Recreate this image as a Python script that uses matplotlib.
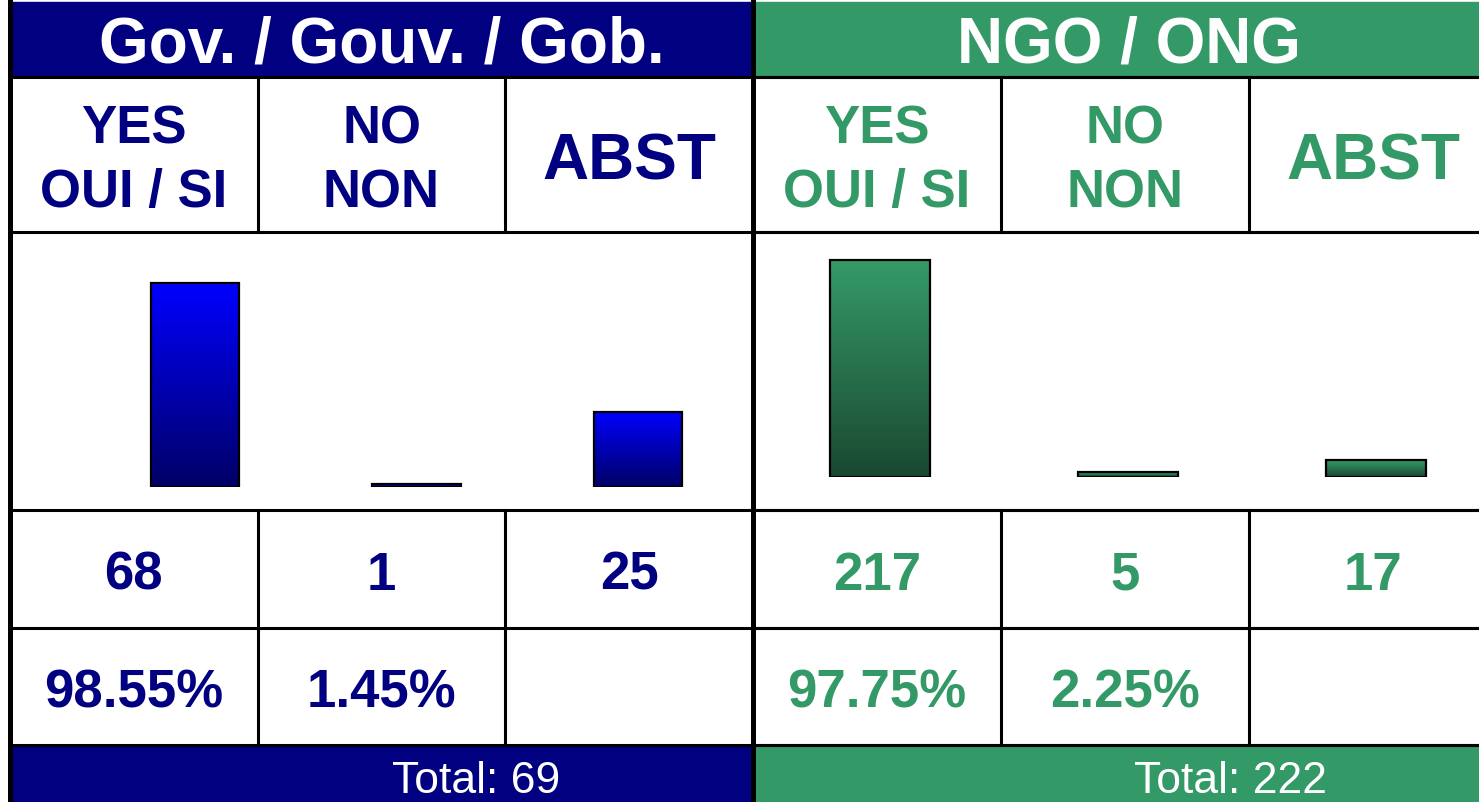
import numpy as np
import matplotlib
matplotlib.use('Agg')
import matplotlib.pyplot as plt
from matplotlib.patches import Rectangle

plt.rcParams['font.family'] = ['Liberation Sans', 'DejaVu Sans']

# Data
groups = ['Gov. / Gouv. / Gob.', 'NGO / ONG']
yes_labels = ['YES', 'OUI / SI']
no_labels = ['NO', 'NON']
abst_label = 'ABST'
gov_counts = [68, 1, 25]
ngo_counts = [217, 5, 17]
gov_pct = ['98.55%', '1.45%', '']
ngo_pct = ['97.75%', '2.25%', '']
gov_total = 69
ngo_total = 222

navy = '#000080'
green = '#339966'

W, H = 1479, 803
fig = plt.figure(figsize=(W / 100, H / 100), dpi=100)
ax = fig.add_axes([0, 0, 1, 1])
ax.set_xlim(0, W)
ax.set_ylim(H, 0)
ax.axis('off')

# panel geometry in pixels
panels = [
    dict(x0=10, x1=753, color=navy, counts=gov_counts, pct=gov_pct,
         total=gov_total, total_x=476, title=groups[0]),
    dict(x0=753, x1=1497, color=green, counts=ngo_counts, pct=ngo_pct,
         total=ngo_total, total_x=1231, title=groups[1]),
]
y_head = (3, 78)
y_lab = (78, 233)
y_chart = (233, 511)
y_cnt = (511, 629)
y_pct = (629, 746)
y_tot = (746, 803)

thin = 2.2
thick = 3.6

for i, p in enumerate(panels):
    x0, x1, c = p['x0'], p['x1'], p['color']
    # header and total bands
    band_x1 = x1 if i == 0 else W + 10
    ax.add_patch(Rectangle((x0, y_head[0]), band_x1 - x0, y_head[1] - y_head[0], color=c, zorder=1))
    ax.add_patch(Rectangle((x0, y_tot[0]), band_x1 - x0, y_tot[1] - y_tot[0], color=c, zorder=1))
    ax.text((x0 + x1) / 2 + (0 if i == 0 else 4), 63, p['title'], color='white',
            fontsize=46, fontweight='bold', ha='center', va='baseline', zorder=3)
    ax.text(p['total_x'], 793, f"Total: {p['total']}", color='white', fontsize=32,
            ha='center', va='baseline', zorder=3)

    cw = (x1 - x0) / 3
    centers = [x0 + cw * (k + 0.5) for k in range(3)]
    # column dividers
    for k in (1, 2):
        xx = x0 + cw * k
        ax.plot([xx, xx], [y_lab[0], y_lab[1]], color='black', lw=thin, zorder=2)
        ax.plot([xx, xx], [y_cnt[0], y_pct[1]], color='black', lw=thin, zorder=2)
    # horizontal lines
    for yy in (y_head[1], y_lab[1], y_chart[1], y_cnt[1], y_pct[1]):
        ax.plot([x0, W + 10], [yy, yy], color='black', lw=thin, zorder=2)

    # label row
    ax.text(centers[0], 143, yes_labels[0], color=c, fontsize=38, fontweight='bold',
            ha='center', va='baseline')
    ax.text(centers[0], 207, yes_labels[1], color=c, fontsize=38, fontweight='bold',
            ha='center', va='baseline')
    ax.text(centers[1], 143, no_labels[0], color=c, fontsize=38, fontweight='bold',
            ha='center', va='baseline')
    ax.text(centers[1], 207, no_labels[1], color=c, fontsize=38, fontweight='bold',
            ha='center', va='baseline')
    ax.text(centers[2], 179, abst_label, color=c, fontsize=46, fontweight='bold',
            ha='center', va='baseline')

    # counts and percents
    for k in range(3):
        ax.text(centers[k], 590, str(p['counts'][k]), color=c, fontsize=38,
                fontweight='bold', ha='center', va='baseline')
        ax.text(centers[k], 708, p['pct'][k], color=c, fontsize=38,
                fontweight='bold', ha='center', va='baseline')

# outer left border and middle divider
ax.plot([9.5, 9.5], [0, H], color='black', lw=thick, zorder=4)
ax.plot([752.5, 752.5], [0, H], color='black', lw=thick, zorder=4)


def bar_axes(left, right, bottom, top):
    a = fig.add_axes([left / W, 1 - bottom / H, (right - left) / W, (bottom - top) / H])
    a.axis('off')
    return a


def gradient_bars(a, values, top_col, bot_col):
    grad = np.linspace(0, 1, 256).reshape(-1, 1)
    cmap = matplotlib.colors.LinearSegmentedColormap.from_list('g', [bot_col, top_col])
    bars = a.bar(range(len(values)), values, width=0.4, facecolor='none',
                 edgecolor='black', linewidth=1.6, zorder=3)
    for b in bars:
        bx, by = b.get_x(), b.get_y()
        bw, bh = b.get_width(), b.get_height()
        im = a.imshow(grad, cmap=cmap, aspect='auto', origin='lower',
                      extent=[bx, bx + bw, by, by + bh], zorder=2)
        im.set_clip_path(b)


# Gov chart: baseline at 488 px, ~3 px per vote
gov_ax = bar_axes(84.25, 748.75, 488, 250)
gradient_bars(gov_ax, gov_counts, '#0000ff', '#000066')
gov_ax.set_xlim(-0.5, 2.5)
gov_ax.set_ylim(0, (488 - 250) / 3.0)

# NGO chart: baseline at 478 px, ~1 px per vote
ngo_ax = bar_axes(756, 1500, 478, 250)
gradient_bars(ngo_ax, ngo_counts, '#359a67', '#1a4831')
ngo_ax.set_xlim(-0.5, 2.5)
ngo_ax.set_ylim(0, (478 - 250) / 1.0)

fig.savefig('out.png', dpi=100)
